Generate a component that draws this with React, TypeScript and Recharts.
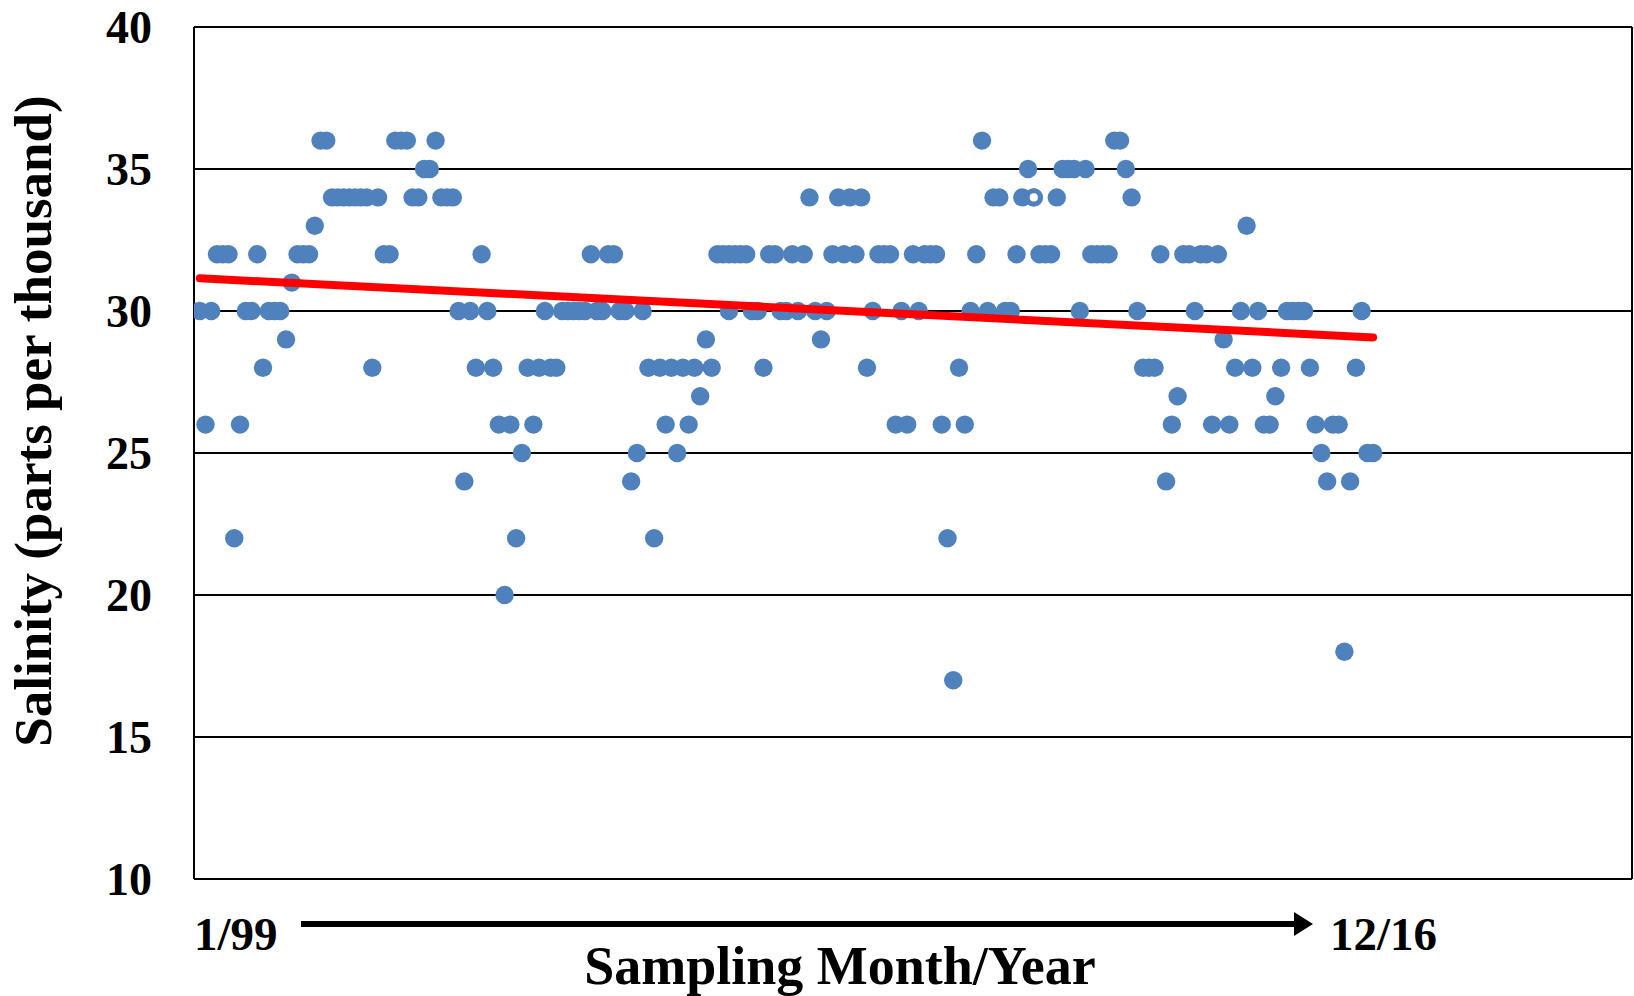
import React from 'react';
import { ScatterChart, Scatter, XAxis, YAxis, CartesianGrid, Label } from 'recharts';

// Monthly salinity readings, sample number 1..205 (1/99 -> 12/16)
const salinity: number[] = [
  30, 26, 30, 32, 32, 32, 22, 26, 30, 30,
  32, 28, 30, 30, 30, 29, 31, 32, 32, 32,
  33, 36, 36, 34, 34, 34, 34, 34, 34, 34,
  28, 34, 32, 32, 36, 36, 36, 34, 34, 35,
  35, 36, 34, 34, 34, 30, 24, 30, 28, 32,
  30, 28, 26, 20, 26, 22, 25, 28, 26, 28,
  30, 28, 28, 30, 30, 30, 30, 30, 32, 30,
  30, 32, 32, 30, 30, 24, 25, 30, 28, 22,
  28, 26, 28, 25, 28, 26, 28, 27, 29, 28,
  32, 32, 32, 32, 32, 32, 30, 30, 28, 32,
  32, 30, 30, 32, 30, 32, 34, 30, 29, 30,
  32, 34, 32, 34, 32, 34, 28, 30, 32, 32,
  32, 26, 30, 26, 32, 30, 32, 32, 32, 26,
  22, 17, 28, 26, 30, 32, 36, 30, 34, 34,
  30, 30, 32, 34, 35, 34, 32, 32, 32, 34,
  35, 35, 35, 30, 35, 32, 32, 32, 32, 36,
  36, 35, 34, 30, 28, 28, 28, 32, 24, 26,
  27, 32, 32, 30, 32, 32, 26, 32, 29, 26,
  28, 30, 33, 28, 30, 26, 26, 27, 28, 30,
  30, 30, 30, 28, 26, 25, 24, 26, 26, 18,
  24, 28, 30, 25, 25,
];

// second reading in the same sample slot
const extraSampleIndex: number[] = [93];
const extraSalinity: number[] = [30];

// the one hollow marker
const hollowSampleIndex: number[] = [146];
const hollowSalinity: number[] = [34];

// linear trend line end points
const trendSampleIndex: number[] = [1, 205];
const trendSalinity: number[] = [31.15, 29.07];

const yTicks: number[] = [10, 15, 20, 25, 30, 35, 40];
const xDomain: [number, number] = [0, 250];
const yDomain: [number, number] = [10, 40];

const startLabel = '1/99';
const endLabel = '12/16';
const xTitle = 'Sampling Month/Year';
const yTitle = 'Salinity (parts per thousand)';

const W = 1634;
const H = 996;
const Y_AXIS_W = 194;
const X_AXIS_H = 117;
const FONT = '"Liberation Serif", "Times New Roman", Times, serif';
const BLUE = '#4F81BD';
const RED = '#FF0000';

const points = salinity.map((v, i) => ({ x: i + 1, y: v }));
const extraPoints = extraSampleIndex.map((x, i) => ({ x, y: extraSalinity[i] }));
const hollowPoints = hollowSampleIndex.map((x, i) => ({ x, y: hollowSalinity[i] }));
const trendPoints = trendSampleIndex.map((x, i) => ({ x, y: trendSalinity[i] }));

const Dot = (p: any) => <circle cx={p.cx} cy={p.cy} r={9.2} fill={BLUE} />;
const Hollow = (p: any) => (
  <circle cx={p.cx} cy={p.cy} r={6.6} fill="#FFFFFF" stroke={BLUE} strokeWidth={5} />
);
const NoShape = () => <g />;

const XLabels = (props: any) => {
  const vb = props.viewBox || {};
  const x0 = vb.x ?? Y_AXIS_W;
  const y0 = vb.y ?? H - X_AXIS_H;
  const arrowY = y0 + 45;
  return (
    <g>
      <text x={x0} y={y0 + 71} fontFamily={FONT} fontWeight={700} fontSize={47} fill="#000" textAnchor="start">
        {startLabel}
      </text>
      <line x1={x0 + 107} y1={arrowY} x2={x0 + 1102} y2={arrowY} stroke="#000" strokeWidth={6} />
      <polygon
        points={`${x0 + 1100},${arrowY - 12} ${x0 + 1119},${arrowY} ${x0 + 1100},${arrowY + 12}`}
        fill="#000"
      />
      <text x={x0 + 1136} y={y0 + 71} fontFamily={FONT} fontWeight={700} fontSize={47} fill="#000" textAnchor="start">
        {endLabel}
      </text>
      <text x={x0 + 646} y={y0 + 105} fontFamily={FONT} fontWeight={700} fontSize={54} fill="#000" textAnchor="middle">
        {xTitle}
      </text>
    </g>
  );
};

const YTitle = () => (
  <text
    x={51}
    y={421}
    transform="rotate(-90 51 421)"
    fontFamily={FONT}
    fontWeight={700}
    fontSize={53}
    fill="#000"
    textAnchor="middle"
  >
    {yTitle}
  </text>
);

export default function App() {
  return (
    <div style={{ position: 'absolute', left: 0, top: 0, width: W, height: H, background: '#fff' }}>
      <ScatterChart width={W} height={H} margin={{ top: 27, right: 2, bottom: 0, left: 0 }}>
        <CartesianGrid
          stroke="#000"
          strokeWidth={2}
          horizontal={true}
          vertical={true}
          verticalCoordinatesGenerator={(p: any) => [p.offset.left, p.offset.left + p.offset.width]}
        />
        <XAxis
          type="number"
          dataKey="x"
          domain={xDomain}
          allowDataOverflow
          tick={false}
          tickLine={false}
          axisLine={false}
          height={X_AXIS_H}
        >
          <Label content={XLabels} />
        </XAxis>
        <YAxis
          type="number"
          dataKey="y"
          domain={yDomain}
          ticks={yTicks}
          interval={0}
          width={Y_AXIS_W}
          tickSize={0}
          tickMargin={42}
          tickLine={false}
          axisLine={false}
          tick={{ fill: '#000', fontFamily: FONT, fontWeight: 700, fontSize: 46 }}
        >
          <Label content={YTitle} />
        </YAxis>
        <Scatter data={points} shape={Dot} fill={BLUE} isAnimationActive={false} />
        <Scatter data={extraPoints} shape={Dot} fill={BLUE} isAnimationActive={false} />
        <Scatter data={hollowPoints} shape={Hollow} fill={BLUE} isAnimationActive={false} />
        <Scatter
          data={trendPoints}
          shape={NoShape}
          fill={RED}
          line={{ stroke: RED, strokeWidth: 8, strokeLinecap: 'round' } as any}
          isAnimationActive={false}
        />
      </ScatterChart>
    </div>
  );
}
